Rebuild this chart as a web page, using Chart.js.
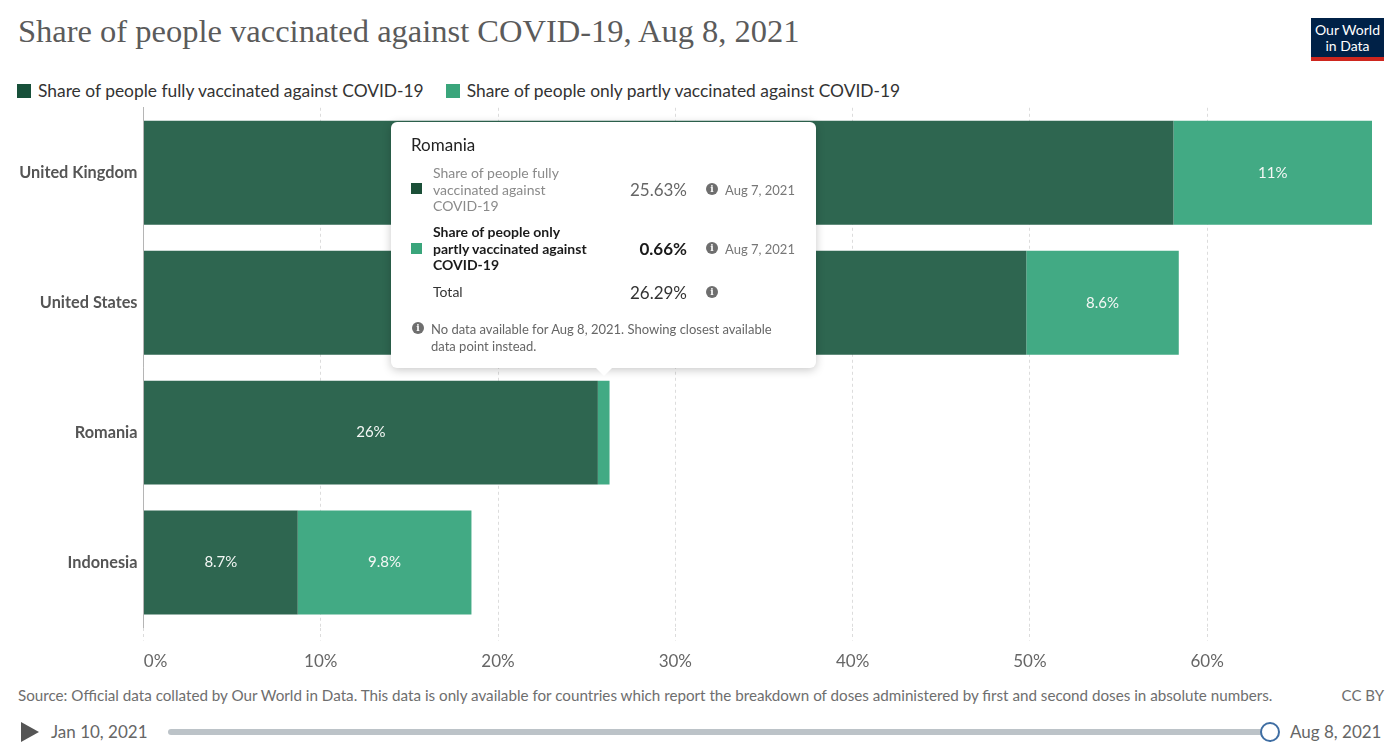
<!DOCTYPE html>
<html>
<head>
<meta charset="utf-8">
<script src="https://cdn.jsdelivr.net/npm/chart.js@4"></script>
<style>
  html, body { margin: 0; padding: 0; background: #fff; }
  body { width: 1396px; height: 750px; position: relative; overflow: hidden; font-family: Lato, "Open Sans", sans-serif; }
  #title { position: absolute; left: 18px; top: 13px; font-family: "Liberation Serif", "DejaVu Serif", serif; font-size: 32.5px; color: #5b5b5b; white-space: nowrap; }
  #logo { position: absolute; left: 1311px; top: 18px; width: 73px; height: 43px; background: #002147; color: #fff; font-size: 14px; line-height: 16px; text-align: center; box-sizing: border-box; padding-top: 4px; }
  #logo .red { position: absolute; left: 0; right: 0; bottom: 0; height: 4px; background: #ce261e; }
  #legend { position: absolute; left: 17px; top: 80px; font-size: 17.4px; color: #333; white-space: nowrap; }
  #legend span.item { display: inline-block; margin-right: 22px; }
  #legend i { display: inline-block; width: 14px; height: 14px; vertical-align: -1px; margin-right: 7px; }
  #wrap { position: absolute; left: 0; top: 91.5px; width: 1396px; height: 588.5px; }
  #tip { position: absolute; left: 391px; top: 122px; width: 425px; height: 246px; background: #fff; border-radius: 6px; box-shadow: 0 2px 10px rgba(0,0,0,0.22); }
  #tip .arrow { position: absolute; left: 205px; bottom: -8px; width: 0; height: 0; border-left: 8px solid transparent; border-right: 8px solid transparent; border-top: 8px solid #fff; }
  #tip div, #tip span { position: absolute; white-space: nowrap; }
  .sq { width: 11px; height: 11px; }
  .info { width: 12px; height: 12px; border-radius: 50%; background: #6e6e6e; color: #fff; font-size: 9px; line-height: 12px; text-align: center; font-weight: bold; font-family: "DejaVu Serif", serif; }
  #source { position: absolute; left: 18px; top: 686px; font-size: 15.2px; color: #6e6e6e; white-space: nowrap; }
  #ccby { position: absolute; right: 12px; top: 686px; font-size: 15px; color: #6e6e6e; }
  #play { position: absolute; left: 21px; top: 722px; width: 0; height: 0; border-top: 10px solid transparent; border-bottom: 10px solid transparent; border-left: 18px solid #555; }
  .date { position: absolute; top: 721px; font-size: 17px; color: #666; }
  #track { position: absolute; left: 168px; top: 729px; width: 1100px; height: 6px; border-radius: 3px; background: #bcc3c8; }
  #knob { position: absolute; left: 1260px; top: 722px; width: 16px; height: 16px; border-radius: 50%; background: #fff; border: 2px solid #3f6ea3; }
</style>
</head>
<body>
<div id="title"></div>
<div id="logo">Our World<br>in Data<div class="red"></div></div>
<div id="legend"></div>
<div id="wrap"><canvas id="barChart"></canvas></div>

<div id="tip">
  <div class="arrow"></div>
  <div style="left:20px;top:12px;font-size:17px;color:#222;">Romania</div>

  <div class="sq" style="left:20px;top:61px;background:#1b4f38;"></div>
  <div style="left:42px;top:43px;font-size:14px;line-height:16.5px;color:#8a8a8a;">Share of people fully<br>vaccinated against<br>COVID-19</div>
  <div style="right:129px;top:57px;font-size:17px;color:#666;">25.63%</div>
  <div class="info" style="left:315px;top:61px;">i</div>
  <div style="left:334px;top:60px;font-size:13px;color:#777;">Aug 7, 2021</div>

  <div class="sq" style="left:20px;top:121px;background:#3aa57b;"></div>
  <div style="left:42px;top:102px;font-size:14px;line-height:16.5px;color:#1a1a1a;font-weight:bold;">Share of people only<br>partly vaccinated against<br>COVID-19</div>
  <div style="right:129px;top:116px;font-size:17px;color:#1a1a1a;font-weight:bold;">0.66%</div>
  <div class="info" style="left:315px;top:120px;">i</div>
  <div style="left:334px;top:119px;font-size:13px;color:#777;">Aug 7, 2021</div>

  <div style="left:42px;top:161px;font-size:14px;color:#333;">Total</div>
  <div style="right:129px;top:160px;font-size:17px;color:#333;">26.29%</div>
  <div class="info" style="left:315px;top:164px;">i</div>

  <div class="info" style="left:21px;top:200px;">i</div>
  <div style="left:40px;top:199px;font-size:13px;line-height:17px;color:#666;">No data available for Aug 8, 2021. Showing closest available<br>data point instead.</div>
</div>

<div id="source">Source: Official data collated by Our World in Data. This data is only available for countries which report the breakdown of doses administered by first and second doses in absolute numbers.</div>
<div id="ccby">CC BY</div>
<div id="play"></div>
<div class="date" style="left:51px;">Jan 10, 2021</div>
<div id="track"></div>
<div id="knob"></div>
<div class="date" style="left:1290px;">Aug 8, 2021</div>

<script>
'use strict';

var chartTitle = 'Share of people vaccinated against COVID-19, Aug 8, 2021';

// countries, top to bottom
var countries = ['United Kingdom', 'United States', 'Romania', 'Indonesia'];

// percent of population
var fullyVaccinated = [58.1, 49.8, 25.63, 8.7];
var partlyVaccinated = [11.2, 8.6, 0.66, 9.8];

var seriesNames = [
  'Share of people fully vaccinated against COVID-19',
  'Share of people only partly vaccinated against COVID-19'
];
var barColors = ['#2e6650', '#42aa84'];
var legendColors = ['#17503a', '#3aa57b'];

var xTicks = [0, 10, 20, 30, 40, 50, 60];

document.getElementById('title').textContent = chartTitle;

// html legend built from the series names
var legend = document.getElementById('legend');
seriesNames.forEach(function(name, i) {
  var item = document.createElement('span');
  item.className = 'item';
  item.innerHTML = '<i style="background:' + legendColors[i] + '"></i>' + name;
  legend.appendChild(item);
});

// largest stacked total sets the end of the axis
var totals = fullyVaccinated.map(function(v, i) {
  return v + partlyVaccinated[i];
});
var xMax = Math.max.apply(null, totals);

function fmt(v) {
  return v >= 10 ? Math.round(v) + '%' : v.toFixed(1) + '%';
}

// white value labels inside the bar segments
var barLabels = {
  id: 'barLabels',
  afterDatasetsDraw: function(chart) {
    var ctx = chart.ctx;
    ctx.save();
    ctx.font = '15px Lato';
    ctx.fillStyle = '#f4f7f5';
    ctx.textAlign = 'center';
    ctx.textBaseline = 'middle';
    chart.data.datasets.forEach(function(ds, di) {
      var meta = chart.getDatasetMeta(di);
      meta.data.forEach(function(bar, i) {
        var w = Math.abs(bar.x - bar.base);
        if (w < 40) return;
        ctx.fillText(fmt(ds.data[i]), (bar.x + bar.base) / 2, bar.y);
      });
    });
    ctx.restore();
  }
};

var ctx = document.getElementById('barChart').getContext('2d');
var chart = new Chart(ctx, {
  type: 'bar',
  data: {
    labels: countries,
    datasets: [{
      label: seriesNames[0],
      data: fullyVaccinated,
      backgroundColor: barColors[0]
    }, {
      label: seriesNames[1],
      data: partlyVaccinated,
      backgroundColor: barColors[1]
    }]
  },
  plugins: [barLabels],
  options: {
    indexAxis: 'y',
    responsive: true,
    maintainAspectRatio: false,
    animation: false,
    categoryPercentage: 1,
    barPercentage: 0.8,
    layout: { padding: { top: 6.5, right: 24, bottom: 0, left: 0 } },
    plugins: {
      legend: { display: false },
      tooltip: { enabled: false },
      title: { display: false }
    },
    scales: {
      x: {
        stacked: true,
        min: 0,
        max: xMax,
        afterFit: function(scale) { scale.height = 53; },
        afterBuildTicks: function(scale) {
          scale.ticks = xTicks.map(function(v) { return { value: v }; });
        },
        ticks: {
          padding: 11,
          color: '#666',
          font: { family: 'Lato', size: 17 },
          callback: function(v) {
            return v === 0 ? '\u2007\u2007 0%' : v + '%';
          }
        },
        grid: {
          color: '#dcdcdc',
          tickColor: '#dcdcdc',
          tickLength: 13,
          tickBorderDash: [3, 3]
        },
        border: { display: false, dash: [3, 3] }
      },
      y: {
        stacked: true,
        afterFit: function(scale) { scale.width = 143.5; },
        ticks: {
          padding: 6,
          color: '#555',
          font: { family: 'Lato', size: 16.3, weight: 'bold' }
        },
        grid: { display: false, drawTicks: false },
        border: { display: true, color: '#b5b5b5', width: 1 }
      }
    }
  }
});
</script>
</body>
</html>
